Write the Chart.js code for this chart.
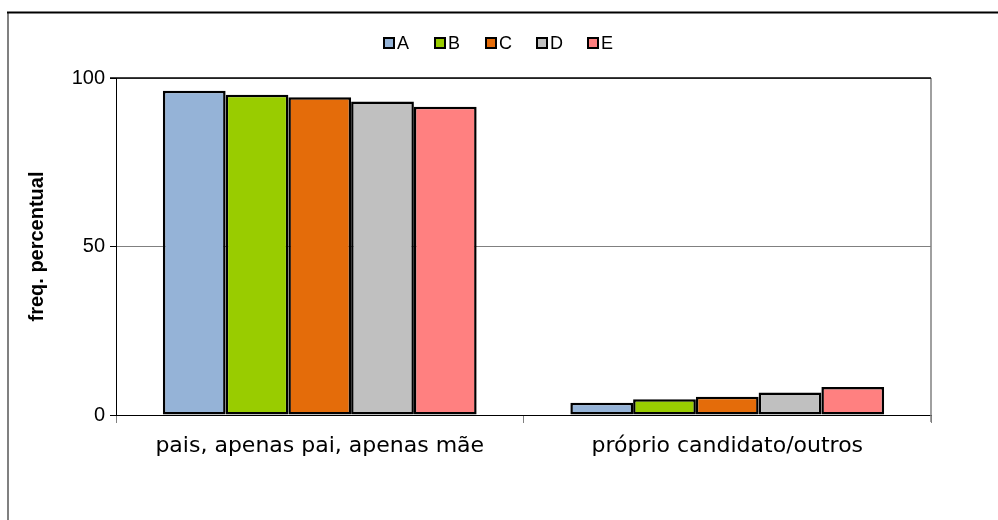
<!DOCTYPE html>
<html>
<head>
<meta charset="utf-8">
<script src="https://cdn.jsdelivr.net/npm/chart.js@4/dist/chart.umd.min.js"></script>
<style>
  html, body { margin: 0; padding: 0; background: #fff; }
  #wrap { width: 998px; height: 520px; }
</style>
</head>
<body>
<div id="wrap"><canvas id="chart" width="998" height="520"></canvas></div>
<script>
// categories and series values
var categories = ["pais, apenas pai, apenas mãe", "próprio candidato/outros"];
var seriesNames = ["A", "B", "C", "D", "E"];
var valuesA = [96.2, 3.6];
var valuesB = [95.0, 4.7];
var valuesC = [94.3, 5.4];
var valuesD = [93.0, 6.7];
var valuesE = [91.5, 8.3];
var yTicks = [0, 50, 100];

var colors = ["#95B3D7", "#99CC00", "#E46C0A", "#C0C0C0", "#FF8080"];
var allValues = [valuesA, valuesB, valuesC, valuesD, valuesE];

var datasets = seriesNames.map(function (name, i) {
    return {
        label: name,
        data: allValues[i],
        backgroundColor: colors[i],
        borderColor: "#000",
        borderWidth: 2.5,
        borderSkipped: false,
        categoryPercentage: 0.77,
        barPercentage: 1.0
    };
});

// outer frame, plot box top/right edges and the legend row
var framePlugin = {
    id: "frame",
    afterDraw: function (chart) {
        var ctx = chart.ctx;
        var a = chart.chartArea;
        ctx.save();
        ctx.lineWidth = 2;
        ctx.strokeStyle = "#808080";
        ctx.beginPath();
        ctx.moveTo(8, 520);
        ctx.lineTo(8, 12.5);
        ctx.stroke();
        ctx.strokeStyle = "#000";
        ctx.beginPath();
        ctx.moveTo(7, 12.5);
        ctx.lineTo(998, 12.5);
        ctx.stroke();
        ctx.lineWidth = 1.5;
        ctx.strokeStyle = "#808080";
        ctx.beginPath();
        ctx.moveTo(a.right, a.top);
        ctx.lineTo(a.right, a.bottom + 7);
        ctx.stroke();
        ctx.strokeStyle = "#000";
        ctx.beginPath();
        ctx.moveTo(a.left - 6, a.top);
        ctx.lineTo(a.right, a.top);
        ctx.stroke();

        // legend
        ctx.font = "18px 'Liberation Sans'";
        ctx.textBaseline = "middle";
        chart.data.datasets.forEach(function (ds, i) {
            var x = 384 + i * 51;
            var y = 38;
            ctx.fillStyle = ds.backgroundColor;
            ctx.fillRect(x, y, 10, 10);
            ctx.lineWidth = 2;
            ctx.strokeStyle = "#000";
            ctx.strokeRect(x, y, 10, 10);
            ctx.fillStyle = "#000";
            ctx.fillText(ds.label, x + 13, y + 6);
        });
        ctx.restore();
    }
};

new Chart(document.getElementById("chart"), {
    type: "bar",
    data: { labels: categories, datasets: datasets },
    plugins: [framePlugin],
    options: {
        responsive: false,
        animation: false,
        layout: { padding: { left: 8, right: 67, top: 78, bottom: 0 } },
        plugins: {
            legend: { display: false },
            tooltip: { enabled: false }
        },
        scales: {
            x: {
                grid: {
                    offset: true,
                    drawOnChartArea: false,
                    tickLength: 8,
                    color: "#808080"
                },
                border: { color: "#000", width: 1 },
                ticks: {
                    color: "#000",
                    font: { family: "DejaVu Sans", size: 22 },
                    padding: 10
                },
                afterFit: function (scale) { scale.height = 105; }
            },
            y: {
                min: 0,
                max: 100,
                afterBuildTicks: function (scale) {
                    scale.ticks = yTicks.map(function (v) { return { value: v }; });
                },
                grid: {
                    color: "#808080",
                    tickLength: 6,
                    tickColor: "#000"
                },
                border: { color: "#000", width: 1 },
                ticks: {
                    color: "#000",
                    font: { family: "Liberation Sans", size: 20 },
                    padding: 5
                },
                title: {
                    display: true,
                    text: "freq. percentual",
                    color: "#000",
                    font: { family: "Liberation Sans", size: 20, weight: "bold" },
                    padding: { top: 17, bottom: 0 }
                },
                afterFit: function (scale) { scale.width = 108; }
            }
        }
    }
});
</script>
</body>
</html>
